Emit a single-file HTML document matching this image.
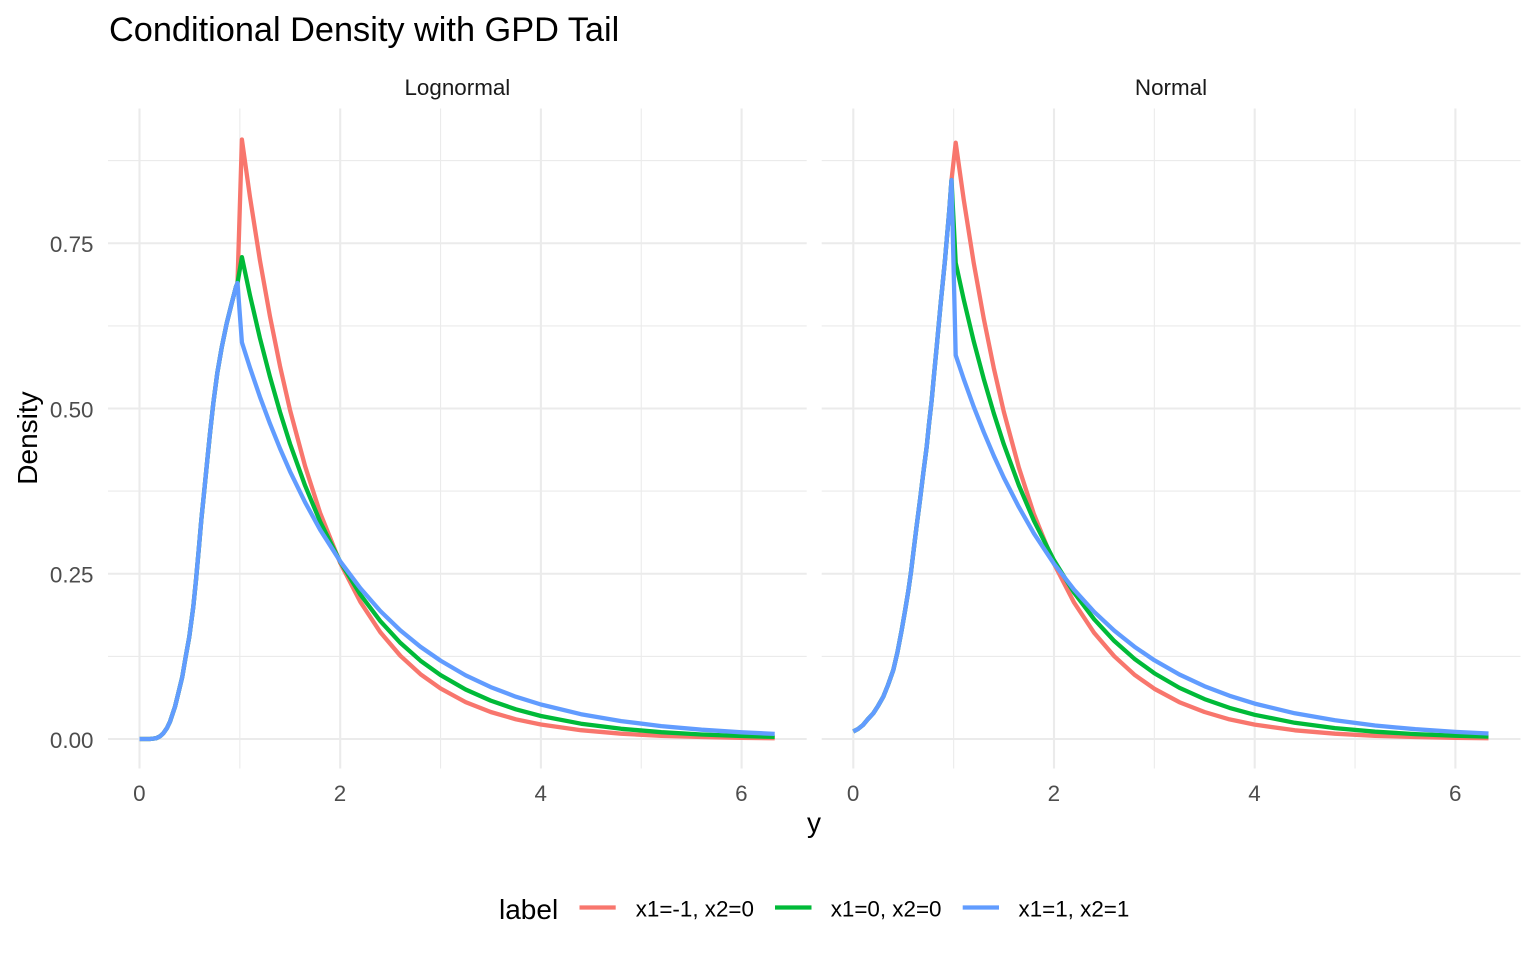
<!DOCTYPE html>
<html>
<head>
<meta charset="utf-8">
<style>
html,body{margin:0;padding:0;background:#fff;}
svg{display:block;}
text{font-family:"Liberation Sans",Arial,sans-serif;}
</style>
</head>
<body>
<svg width="1536" height="960" viewBox="0 0 1536 960" xmlns="http://www.w3.org/2000/svg">
<rect width="1536" height="960" fill="#fff"/>

<!-- Title -->
<text x="109" y="41" font-size="34.3" fill="#000">Conditional Density with GPD Tail</text>

<!-- Strip labels -->
<text x="457.4" y="95" font-size="22.4" fill="#1A1A1A" text-anchor="middle">Lognormal</text>
<text x="1171" y="95" font-size="22.4" fill="#1A1A1A" text-anchor="middle">Normal</text>

<!-- Grid -->
<g stroke="#EBEBEB" fill="none">
  <g stroke-width="1.1">
    <line x1="108" x2="806.7" y1="656.4" y2="656.4"/>
    <line x1="108" x2="806.7" y1="491.1" y2="491.1"/>
    <line x1="108" x2="806.7" y1="325.9" y2="325.9"/>
    <line x1="108" x2="806.7" y1="160.6" y2="160.6"/>
    <line x1="239.85" x2="239.85" y1="108.5" y2="768.5"/>
    <line x1="440.55" x2="440.55" y1="108.5" y2="768.5"/>
    <line x1="641.25" x2="641.25" y1="108.5" y2="768.5"/>
    <line x1="821.7" x2="1520.5" y1="656.4" y2="656.4"/>
    <line x1="821.7" x2="1520.5" y1="491.1" y2="491.1"/>
    <line x1="821.7" x2="1520.5" y1="325.9" y2="325.9"/>
    <line x1="821.7" x2="1520.5" y1="160.6" y2="160.6"/>
    <line x1="953.65" x2="953.65" y1="108.5" y2="768.5"/>
    <line x1="1154.35" x2="1154.35" y1="108.5" y2="768.5"/>
    <line x1="1355.05" x2="1355.05" y1="108.5" y2="768.5"/>
  </g>
  <g stroke-width="2.1">
    <line x1="108" x2="806.7" y1="739" y2="739"/>
    <line x1="108" x2="806.7" y1="573.75" y2="573.75"/>
    <line x1="108" x2="806.7" y1="408.5" y2="408.5"/>
    <line x1="108" x2="806.7" y1="243.25" y2="243.25"/>
    <line x1="139.5" x2="139.5" y1="108.5" y2="768.5"/>
    <line x1="340.2" x2="340.2" y1="108.5" y2="768.5"/>
    <line x1="540.9" x2="540.9" y1="108.5" y2="768.5"/>
    <line x1="741.6" x2="741.6" y1="108.5" y2="768.5"/>
    <line x1="821.7" x2="1520.5" y1="739" y2="739"/>
    <line x1="821.7" x2="1520.5" y1="573.75" y2="573.75"/>
    <line x1="821.7" x2="1520.5" y1="408.5" y2="408.5"/>
    <line x1="821.7" x2="1520.5" y1="243.25" y2="243.25"/>
    <line x1="853.3" x2="853.3" y1="108.5" y2="768.5"/>
    <line x1="1054" x2="1054" y1="108.5" y2="768.5"/>
    <line x1="1254.7" x2="1254.7" y1="108.5" y2="768.5"/>
    <line x1="1455.4" x2="1455.4" y1="108.5" y2="768.5"/>
  </g>
</g>

<!-- Left panel series -->
<g fill="none" stroke-width="4.3" stroke-linejoin="round" stroke-linecap="butt">
  <path stroke="#F8766D" d="M139.5,739 L150,739 L156,738.3 L160,736.3 L163.3,733.3 L167,728 L170,721.7 L175,706.7 L178.3,693.3 L182.3,676.7 L185.7,656.7 L189.3,636.7 L193.3,606.7 L196,580 L199,546.7 L201.3,520 L204,493.3 L207.3,460 L210,433.3 L213.3,403.3 L217.3,373 L221.7,347.5 L226.7,323.3 L231.7,303.3 L236,286.7 L237.5,283 L241.9,139.5 L249.9,196.5 L259.9,260.2 L270,316.5 L280,366.1 L290,409.9 L305.1,466.2 L320.1,512.8 L340.2,562.9 L360.3,601.8 L380.3,632.2 L400.4,655.8 L420.5,674.2 L440.6,688.5 L465.6,702.1 L490.7,712 L515.8,719.3 L540.9,724.5 L581,730.2 L621.2,733.7 L661.3,735.8 L701.5,737 L741.6,737.8 L774.7,738.2"/>
  <path stroke="#00BA38" d="M139.5,739 L150,739 L156,738.3 L160,736.3 L163.3,733.3 L167,728 L170,721.7 L175,706.7 L178.3,693.3 L182.3,676.7 L185.7,656.7 L189.3,636.7 L193.3,606.7 L196,580 L199,546.7 L201.3,520 L204,493.3 L207.3,460 L210,433.3 L213.3,403.3 L217.3,373 L221.7,347.5 L226.7,323.3 L231.7,303.3 L236,286.7 L237.5,283 L241.9,257.1 L249.9,294.9 L259.9,338 L270,376.9 L280,412 L290,443.7 L305.1,485.6 L320.1,521.6 L340.2,561.7 L360.3,594.5 L380.3,621.1 L400.4,642.9 L420.5,660.7 L440.6,675.1 L465.6,689.5 L490.7,700.6 L515.8,709.3 L540.9,716 L581,723.7 L621.2,728.8 L661.3,732.2 L701.5,734.5 L741.6,736 L774.7,736.9"/>
  <path stroke="#619CFF" d="M139.5,739 L150,739 L156,738.3 L160,736.3 L163.3,733.3 L167,728 L170,721.7 L175,706.7 L178.3,693.3 L182.3,676.7 L185.7,656.7 L189.3,636.7 L193.3,606.7 L196,580 L199,546.7 L201.3,520 L204,493.3 L207.3,460 L210,433.3 L213.3,403.3 L217.3,373 L221.7,347.5 L226.7,323.3 L231.7,303.3 L236,286.7 L237.5,283 L241.9,342.4 L249.9,367.5 L259.9,396.7 L270,423.7 L280,448.5 L290,471.4 L305.1,502.3 L320.1,529.7 L340.2,561.3 L360.3,588.2 L380.3,611 L400.4,630.4 L420.5,646.8 L440.6,660.7 L465.6,675.3 L490.7,687.1 L515.8,696.7 L540.9,704.5 L581,714.2 L621.2,721.1 L661.3,726.1 L701.5,729.7 L741.6,732.3 L774.7,733.9"/>
</g>

<!-- Right panel series -->
<g fill="none" stroke-width="4.3" stroke-linejoin="round" stroke-linecap="butt">
  <path stroke="#F8766D" d="M853.3,731.4 L858,729 L863,725 L868,719 L873.3,713.3 L878,706 L883.3,696.7 L888,685 L893.3,670 L897.5,652 L901.7,630 L905,611 L908.3,591 L911,572 L913.3,553 L916.5,527 L920,500 L923.3,473 L926.7,446.7 L929,424 L931.7,400 L934,375 L936.7,346.7 L940.7,303.3 L945,260 L946.7,240 L949.3,210 L951.5,180 L955.7,142.7 L963.7,199.4 L973.7,262.8 L983.8,318.8 L993.8,368.1 L1003.8,411.7 L1018.9,467.7 L1033.9,514.1 L1054,563.8 L1074.1,602.6 L1094.1,632.8 L1114.2,656.2 L1134.3,674.6 L1154.4,688.8 L1179.4,702.2 L1204.5,712 L1229.6,719.4 L1254.7,724.6 L1294.8,730.3 L1335,733.7 L1375.1,735.8 L1415.3,737 L1455.4,737.8 L1488.5,738.2"/>
  <path stroke="#00BA38" d="M853.3,731.4 L858,729 L863,725 L868,719 L873.3,713.3 L878,706 L883.3,696.7 L888,685 L893.3,670 L897.5,652 L901.7,630 L905,611 L908.3,591 L911,572 L913.3,553 L916.5,527 L920,500 L923.3,473 L926.7,446.7 L929,424 L931.7,400 L934,375 L936.7,346.7 L940.7,303.3 L945,260 L946.7,240 L949.3,210 L951.5,180 L955.7,262.8 L963.7,299.4 L973.7,341.2 L983.8,379.1 L993.8,413.3 L1003.8,444.3 L1018.9,485.4 L1033.9,520.7 L1054,560.3 L1074.1,592.7 L1094.1,619.2 L1114.2,640.9 L1134.3,658.7 L1154.4,673.3 L1179.4,687.8 L1204.5,699.1 L1229.6,707.9 L1254.7,714.8 L1294.8,722.8 L1335,728.1 L1375.1,731.7 L1415.3,734.1 L1455.4,735.7 L1488.5,736.6"/>
  <path stroke="#619CFF" d="M853.3,731.4 L858,729 L863,725 L868,719 L873.3,713.3 L878,706 L883.3,696.7 L888,685 L893.3,670 L897.5,652 L901.7,630 L905,611 L908.3,591 L911,572 L913.3,553 L916.5,527 L920,500 L923.3,473 L926.7,446.7 L929,424 L931.7,400 L934,375 L936.7,346.7 L940.7,303.3 L945,260 L946.7,240 L949.3,210 L951.5,180 L955.7,355.2 L963.7,379 L973.7,406.7 L983.8,432.2 L993.8,455.8 L1003.8,477.6 L1018.9,507.1 L1033.9,533.4 L1054,563.8 L1074.1,589.7 L1094.1,611.8 L1114.2,630.6 L1134.3,646.6 L1154.4,660.3 L1179.4,674.5 L1204.5,686.2 L1229.6,695.8 L1254.7,703.6 L1294.8,713.3 L1335,720.3 L1375.1,725.5 L1415.3,729.2 L1455.4,731.9 L1488.5,733.5"/>
</g>

<!-- Y tick labels -->
<g font-size="22.4" fill="#4D4D4D" text-anchor="end">
  <text x="93.5" y="748">0.00</text>
  <text x="93.5" y="582.5">0.25</text>
  <text x="93.5" y="417.3">0.50</text>
  <text x="93.5" y="252">0.75</text>
</g>

<!-- X tick labels -->
<g font-size="22.4" fill="#4D4D4D" text-anchor="middle">
  <text x="139.3" y="801">0</text>
  <text x="340" y="801">2</text>
  <text x="540.7" y="801">4</text>
  <text x="741.4" y="801">6</text>
  <text x="853.1" y="801">0</text>
  <text x="1053.8" y="801">2</text>
  <text x="1254.5" y="801">4</text>
  <text x="1455.2" y="801">6</text>
</g>

<!-- Axis titles -->
<text x="814" y="832" font-size="28" fill="#000" text-anchor="middle">y</text>
<text x="37" y="438" font-size="28" fill="#000" text-anchor="middle" transform="rotate(-90 37 438)">Density</text>

<!-- Legend -->
<text x="499" y="919" font-size="28" fill="#000">label</text>
<g stroke-width="4.3">
  <line x1="579.5" x2="615.7" y1="907.5" y2="907.5" stroke="#F8766D"/>
  <line x1="775" x2="811.5" y1="907.5" y2="907.5" stroke="#00BA38"/>
  <line x1="962.7" x2="999" y1="907.5" y2="907.5" stroke="#619CFF"/>
</g>
<g font-size="22.4" fill="#000">
  <text x="635.7" y="916.7">x1=-1, x2=0</text>
  <text x="830.7" y="916.7">x1=0, x2=0</text>
  <text x="1018.5" y="916.7">x1=1, x2=1</text>
</g>
</svg>
</body>
</html>
